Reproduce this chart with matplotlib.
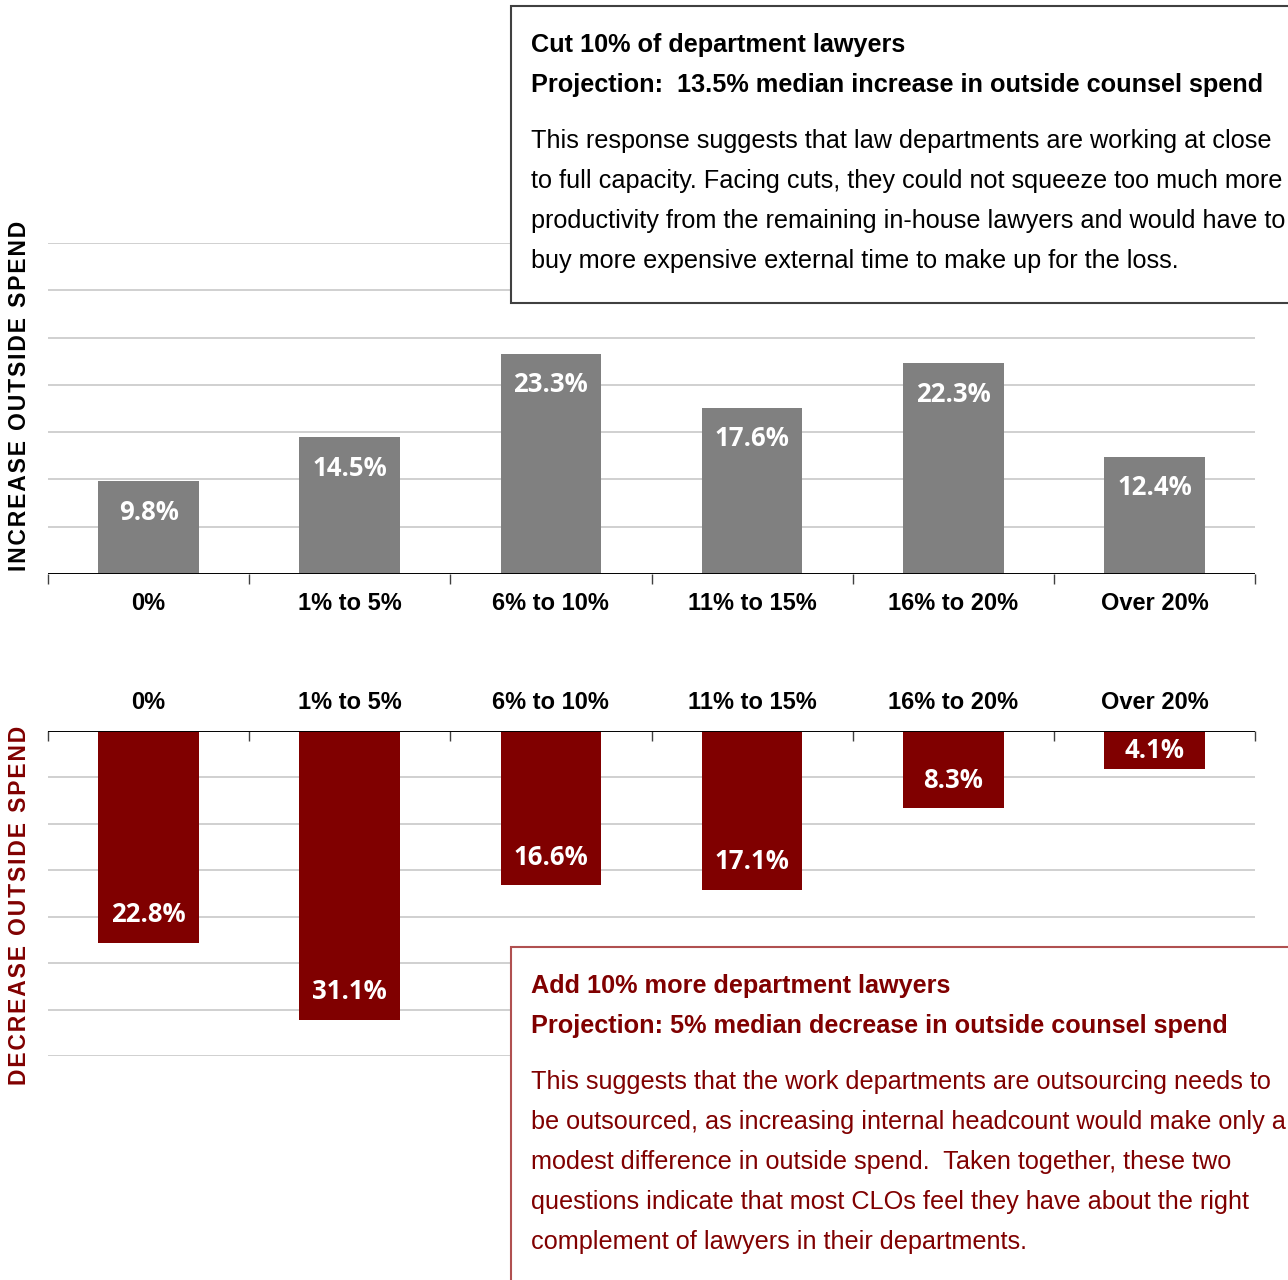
import matplotlib
matplotlib.use("Agg")
import matplotlib.pyplot as plt
from matplotlib.patches import Rectangle

# Survey responses: projected change in outside counsel spend
categories = ["0%", "1% to 5%", "6% to 10%", "11% to 15%", "16% to 20%", "Over 20%"]
increase_pct = [9.8, 14.5, 23.3, 17.6, 22.3, 12.4]   # if 10% of lawyers were cut
decrease_pct = [22.8, 31.1, 16.6, 17.1, 8.3, 4.1]    # if 10% more lawyers were added

top_title = ["Cut 10% of department lawyers",
             "Projection:  13.5% median increase in outside counsel spend"]
top_body = ["This response suggests that law departments are working at close",
            "to full capacity. Facing cuts, they could not squeeze too much more",
            "productivity from the remaining in-house lawyers and would have to",
            "buy more expensive external time to make up for the loss."]
bottom_title = ["Add 10% more department lawyers",
                "Projection: 5% median decrease in outside counsel spend"]
bottom_body = ["This suggests that the work departments are outsourcing needs to",
               "be outsourced, as increasing internal headcount would make only a",
               "modest difference in outside spend.  Taken together, these two",
               "questions indicate that most CLOs feel they have about the right",
               "complement of lawyers in their departments."]

GRAY = "#808080"
RED = "#800000"
W, H = 1288, 1280

plt.rcParams["font.family"] = ["Liberation Sans", "DejaVu Sans"]
fig = plt.figure(figsize=(W / 100, H / 100), dpi=100)


def fx(px):
    return px / W


def fy(py):
    return 1 - py / H


def style_axes(ax, top):
    x = range(len(categories))
    ax.set_xlim(-0.5, len(categories) - 0.5)
    ax.set_ylim(0, 35)
    ax.set_yticks(range(5, 36, 5))
    ax.yaxis.grid(True, color="#c8c8c8", lw=1.2)
    ax.set_axisbelow(True)
    ax.tick_params(axis="y", length=0, labelleft=False)
    for s in ["left", "right", "top", "bottom"]:
        ax.spines[s].set_visible(False)
    ax.axhline(0, color="black", lw=1.4, zorder=3)
    # tick marks sit on the category boundaries
    ax.set_xticks([i - 0.5 for i in range(len(categories) + 1)], minor=False)
    ax.set_xticklabels([])
    ax.tick_params(axis="x", length=7, width=1, color="#404040",
                   direction="out" if top else "in")
    ax.set_xticks(list(x), minor=True)
    ax.set_xticklabels(categories, minor=True, fontsize=17, fontweight="bold")
    ax.tick_params(axis="x", which="minor", length=0, pad=13 if top else 12)


# upper chart: increase
ax1 = fig.add_axes([fx(48), fy(574), fx(1255 - 48), (574 - 243) / H])
ax1.bar(range(len(categories)), increase_pct, width=0.5, color=GRAY, zorder=2)
style_axes(ax1, True)
for i, v in enumerate(increase_pct):
    ax1.text(i, v - 3.3, f"{v:.1f}%", ha="center", va="center", color="white",
             fontsize=18.5, fontweight="bold", family="Open Sans", zorder=4)

# lower chart: decrease, hanging from the top axis
ax2 = fig.add_axes([fx(48), fy(1056), fx(1255 - 48), (1056 - 731) / H])
ax2.bar(range(len(categories)), decrease_pct, width=0.5, color=RED, zorder=2)
style_axes(ax2, False)
ax2.invert_yaxis()
ax2.xaxis.tick_top()
ax2.tick_params(axis="x", which="both", labeltop=True, labelbottom=False,
                top=True, bottom=False)
ax2.tick_params(axis="x", which="major", direction="in")
for i, v in enumerate(decrease_pct):
    ax2.text(i, max(v - 3.0, v / 2), f"{v:.1f}%", ha="center", va="center",
             color="white", fontsize=18.5, fontweight="bold", family="Open Sans",
             zorder=4)

# side labels, letter-spaced
def spaced(s):
    return "\u200a".join(s)


fig.text(fx(20), fy(396), spaced("INCREASE OUTSIDE SPEND"), rotation=90,
         ha="center", va="center", fontsize=16.5, fontweight="bold", color="black")
fig.text(fx(20), fy(905), spaced("DECREASE OUTSIDE SPEND"), rotation=90,
         ha="center", va="center", fontsize=16.5, fontweight="bold", color=RED)

# commentary boxes
BOX_FS = 18.2


def note_box(y_top, y_bottom, border, color, title, body, y_first):
    fig.patches.append(Rectangle((fx(511), fy(y_bottom)), fx(W + 20 - 511),
                                 (y_bottom - y_top) / H, transform=fig.transFigure,
                                 facecolor="white", edgecolor=border, lw=1.5,
                                 zorder=5))
    y = y_first
    for line in title:
        fig.text(fx(531), fy(y), line, ha="left", va="center", fontsize=BOX_FS,
                 fontweight="bold", color=color, zorder=6)
        y += 40
    y += 16
    for line in body:
        fig.text(fx(531), fy(y), line, ha="left", va="center", fontsize=BOX_FS,
                 color=color, zorder=6)
        y += 40


note_box(6, 303, "#404040", "black", top_title, top_body, 45)
note_box(947, H + 20, "#b05050", RED, bottom_title, bottom_body, 986)

fig.savefig("out.png", dpi=100)
